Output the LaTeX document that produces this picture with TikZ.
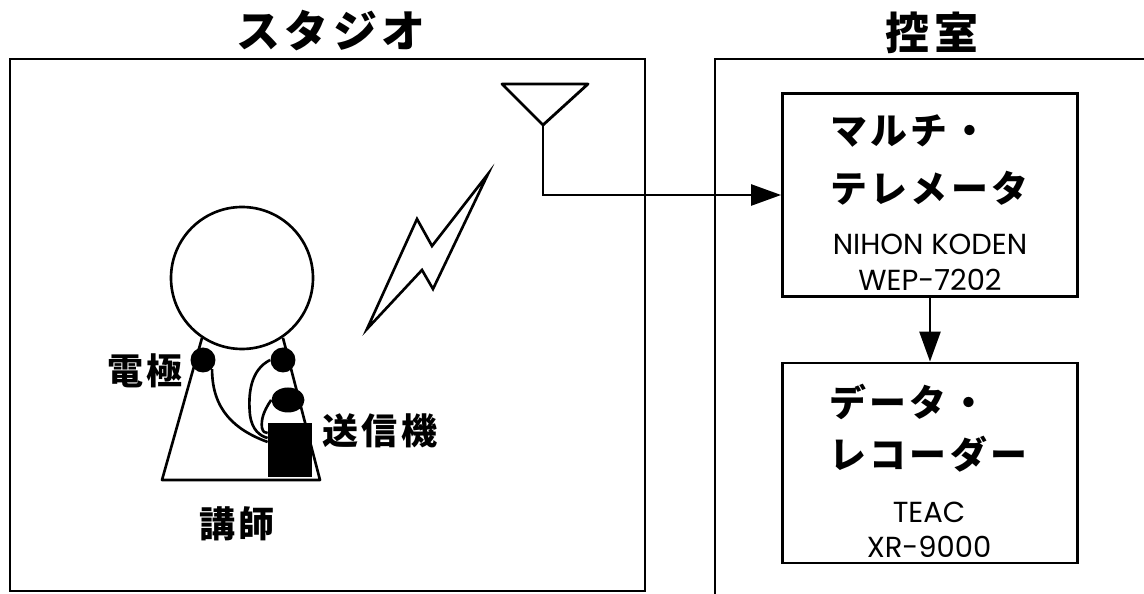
\documentclass[tikz,border=0pt]{standalone}
\usepackage{fontspec}
\usetikzlibrary{arrows.meta,shapes.geometric}
\newfontfamily\jafont[LetterSpace=10]{Noto Sans CJK JP}
\newfontfamily\jawide[LetterSpace=9]{Noto Sans CJK JP}
\newfontfamily\latfont{Poppins}

\begin{document}
\begin{tikzpicture}[x=0.02cm,y=-0.02cm,
    wall/.style={line width=1.6pt},
    unitbox/.style={draw,line width=1.6pt,minimum width=5.9cm,minimum height=4.05cm,inner sep=0pt},
    jp/.style={font=\jawide\bfseries\fontsize{21}{24}\selectfont,anchor=west,inner sep=0pt},
    model/.style={font=\latfont\fontsize{16.5}{20}\selectfont,inner sep=0pt},
    lbl/.style={font=\jafont\bfseries\fontsize{20.5}{24}\selectfont,inner sep=0pt},
    ttl/.style={font=\jafont\bfseries\fontsize{25}{30}\selectfont,inner sep=0pt},
    elec/.style={circle,fill,inner sep=0pt,minimum size=0.5cm},
    wire/.style={line width=1.5pt},
    sig/.style={-{Triangle[length=0.6cm,width=0.42cm]},line width=1.4pt}]
\useasboundingbox (0,0) rectangle (1144,594);

    % the two rooms
    \draw[wall] (10,59) rectangle (645,591);
    \draw[wall] (1144,59) -- (715,59) -- (715,594);
    \node[ttl] (studio) at (331,31) {スタジオ};
    \node[ttl] (ctrl) at (932,33) {控室};

    % lecturer with electrodes and transmitter
    \draw[line width=1.5pt] (242,278) circle (71);
    \draw[line width=1.5pt,line join=round] (202,338) -- (162,480) -- (320,480) -- (283,338);
    \node[elec] (e1) at (203,360) {};
    \node[elec] (e2) at (283,360) {};
    \node[ellipse,fill,inner sep=0pt,minimum width=0.66cm,minimum height=0.5cm] (e3) at (288,400) {};
    \node[fill,inner sep=0pt,minimum width=0.88cm,minimum height=1.08cm] (tx) at (290,450) {};
    \draw[wire] (e1.south east) .. controls (212,410) and (235,430) .. ([yshift=0.16cm]tx.west);
    \draw[wire] (e2.west) .. controls (250,370) and (248,395) .. (250,415)
        .. controls (252,430) and (260,436) .. ([yshift=0.24cm]tx.west);
    \draw[wire] (e3.west) .. controls (263,412) and (261,420) .. (262,428)
        .. controls (263,432) and (265,433) .. ([yshift=0.34cm]tx.west);
    \node[lbl] (elabel) at (145,371) {電極};
    \node[lbl] (txlabel) at (380,431) {送信機};
    \node[lbl] (lecturer) at (237,524) {講師};

    % radio link
    \draw[line width=1.5pt] (367,329) -- (417,219) -- (432,246) -- (488,174) -- (433,289) -- (422,270) -- cycle;
    \coordinate (ant) at (543,125);
    \draw[line width=1.6pt,line join=round] (502,84) -- (588,84) -- (ant) -- cycle;

    % equipment in the control room
    \node[unitbox] (tele) at (930,195) {};
    \node[unitbox,minimum height=4cm] (rec) at (930,463) {};
    \node[jp] (teleA) at (830,131) {マルチ・};
    \node[jp] (teleB) at (830,188) {テレメータ};
    \node[model] (teleC) at (930,244) {NIHON KODEN};
    \node[model] (teleD) at (930,280) {WEP-7202};
    \node[jp] (recA) at (829,402) {データ・};
    \node[jp] (recB) at (829,454) {レコーダー};
    \node[model] (recC) at (929,512) {TEAC};
    \node[model] (recD) at (929,547) {XR-9000};

    \draw[sig] (ant) |- (tele.west);
    \draw[sig] (tele) -- (rec);
\end{tikzpicture}
\end{document}
